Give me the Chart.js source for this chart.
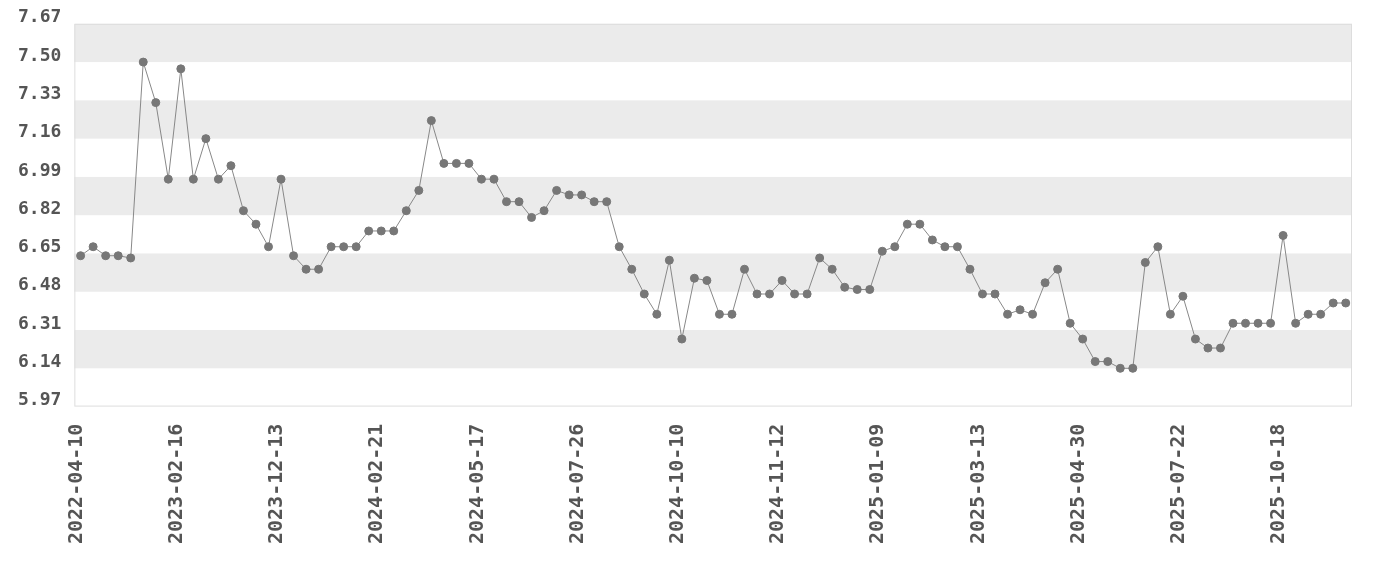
<!DOCTYPE html>
<html>
<head>
<meta charset="utf-8">
<script src="https://cdn.jsdelivr.net/npm/chart.js@4"></script>
<style>
  html, body { margin: 0; padding: 0; background: #fff; }
  #wrap { width: 1380px; height: 580px; }
</style>
</head>
<body>
<div id="wrap"><canvas id="myChart"></canvas></div>
<script>
// dates (only every 8th one is shown on the axis)
const dates = [
  "2022-04-10", "2022-05-22", "2022-06-30", "2022-08-09", "2022-09-15", "2022-10-20", "2022-11-24", "2023-01-05",
  "2023-02-16", "2023-04-02", "2023-05-18", "2023-06-29", "2023-08-10", "2023-09-14", "2023-10-19", "2023-11-16",
  "2023-12-13", "2023-12-21", "2023-12-30", "2024-01-08", "2024-01-17", "2024-01-26", "2024-02-03", "2024-02-12",
  "2024-02-21", "2024-03-03", "2024-03-14", "2024-03-25", "2024-04-04", "2024-04-15", "2024-04-25", "2024-05-06",
  "2024-05-17", "2024-05-26", "2024-06-03", "2024-06-12", "2024-06-20", "2024-06-29", "2024-07-08", "2024-07-17",
  "2024-07-26", "2024-08-05", "2024-08-15", "2024-08-25", "2024-09-03", "2024-09-12", "2024-09-21", "2024-10-01",
  "2024-10-10", "2024-10-14", "2024-10-18", "2024-10-22", "2024-10-27", "2024-10-31", "2024-11-04", "2024-11-08",
  "2024-11-12", "2024-11-19", "2024-11-26", "2024-12-03", "2024-12-11", "2024-12-18", "2024-12-25", "2025-01-02",
  "2025-01-09", "2025-01-17", "2025-01-25", "2025-02-02", "2025-02-10", "2025-02-18", "2025-02-26", "2025-03-06",
  "2025-03-13", "2025-03-19", "2025-03-25", "2025-03-31", "2025-04-06", "2025-04-12", "2025-04-18", "2025-04-24",
  "2025-04-30", "2025-05-12", "2025-05-23", "2025-06-04", "2025-06-15", "2025-06-26", "2025-07-07", "2025-07-15",
  "2025-07-22", "2025-08-03", "2025-08-14", "2025-08-25", "2025-09-05", "2025-09-16", "2025-09-27", "2025-10-08",
  "2025-10-18", "2025-10-30", "2025-11-10", "2025-11-21", "2025-12-02", "2025-12-13"
];

const values = [
  6.64, 6.68, 6.64, 6.64, 6.63, 7.50, 7.32, 6.98, 7.47, 6.98,
  7.16, 6.98, 7.04, 6.84, 6.78, 6.68, 6.98, 6.64, 6.58, 6.58,
  6.68, 6.68, 6.68, 6.75, 6.75, 6.75, 6.84, 6.93, 7.24, 7.05,
  7.05, 7.05, 6.98, 6.98, 6.88, 6.88, 6.81, 6.84, 6.93, 6.91,
  6.91, 6.88, 6.88, 6.68, 6.58, 6.47, 6.38, 6.62, 6.27, 6.54,
  6.53, 6.38, 6.38, 6.58, 6.47, 6.47, 6.53, 6.47, 6.47, 6.63,
  6.58, 6.50, 6.49, 6.49, 6.66, 6.68, 6.78, 6.78, 6.71, 6.68,
  6.68, 6.58, 6.47, 6.47, 6.38, 6.40, 6.38, 6.52, 6.58, 6.34,
  6.27, 6.17, 6.17, 6.14, 6.14, 6.61, 6.68, 6.38, 6.46, 6.27,
  6.23, 6.23, 6.34, 6.34, 6.34, 6.34, 6.73, 6.34, 6.38, 6.38,
  6.43, 6.43
];

const yTicks = [5.97, 6.14, 6.31, 6.48, 6.65, 6.82, 6.99, 7.16, 7.33, 7.50, 7.67];
const labelEvery = 8;

const textColor = "#555555";
const fontFamily = "'DejaVu Sans Mono', 'Liberation Mono', monospace";

// grey bands between every other pair of y ticks + light frame round the plot
const bandPlugin = {
  id: "bands",
  beforeDatasetsDraw(chart) {
    const { ctx, chartArea } = chart;
    const y = chart.scales.y;
    ctx.save();
    ctx.fillStyle = "#ebebeb";
    for (let i = 0; i < yTicks.length - 1; i++) {
      if (i % 2 === 1) {
        const top = y.getPixelForValue(yTicks[i + 1]);
        const bottom = y.getPixelForValue(yTicks[i]);
        ctx.fillRect(chartArea.left, top, chartArea.right - chartArea.left, bottom - top);
      }
    }
    ctx.strokeStyle = "#dddddd";
    ctx.lineWidth = 1;
    ctx.strokeRect(chartArea.left + 0.5, chartArea.top + 0.5,
      chartArea.right - chartArea.left - 1, chartArea.bottom - chartArea.top - 1);
    ctx.restore();
  },
};

const ctx = document.getElementById("myChart");

new Chart(ctx, {
  type: "line",
  data: {
    labels: dates,
    datasets: [
      {
        data: values,
        borderColor: "#888888",
        borderWidth: 1,
        pointRadius: 4,
        pointBackgroundColor: "#777777",
        pointBorderColor: "#777777",
        pointBorderWidth: 1,
        fill: false,
        tension: 0,
      },
    ],
  },
  options: {
    responsive: true,
    maintainAspectRatio: false,
    animation: false,
    layout: { padding: { top: 22, right: 28, bottom: 19, left: 5 } },
    plugins: {
      legend: { display: false },
      tooltip: { enabled: false },
    },
    scales: {
      x: {
        offset: true,
        afterFit: function (scale) {
          scale.paddingRight = 0;
        },
        grid: { display: false, drawTicks: false },
        border: { display: false },
        ticks: {
          autoSkip: false,
          maxRotation: 90,
          minRotation: 90,
          padding: 17,
          labelOffset: -4,
          color: textColor,
          font: { family: fontFamily, size: 20, weight: "bold" },
          callback: function (value, index) {
            return index % labelEvery === 0 ? dates[index] : "";
          },
        },
      },
      y: {
        min: yTicks[0],
        max: yTicks[yTicks.length - 1],
        afterBuildTicks: function (axis) {
          axis.ticks = yTicks.map((v) => ({ value: v }));
        },
        grid: { display: false, drawTicks: false },
        border: { display: false },
        ticks: {
          padding: 13,
          labelOffset: -6,
          color: textColor,
          font: { family: fontFamily, size: 18, weight: "bold" },
          callback: function (value) {
            return Number(value).toFixed(2);
          },
        },
      },
    },
  },
  plugins: [bandPlugin],
});
</script>
</body>
</html>
